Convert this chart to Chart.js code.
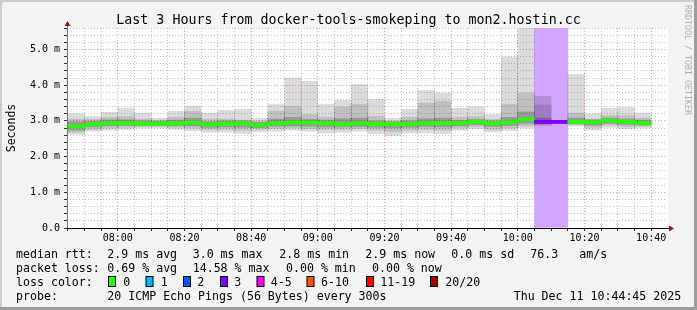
<!DOCTYPE html>
<html>
<head>
<meta charset="utf-8">
<title>SmokePing - mon2.hostin.cc</title>
<script src="https://cdn.jsdelivr.net/npm/chart.js@4.4.1/dist/chart.umd.min.js"></script>
<style>
  body { margin: 0; background: #fff; }
  canvas { display: block; }
</style>
</head>
<body>
<canvas id="myChart" width="697" height="310"></canvas>
<script>
// 5 minute slots (start time), values in ms
const slotStart = ['07:45','07:50','07:55','08:00','08:05','08:10','08:15','08:20','08:25','08:30','08:35','08:40',
                   '08:45','08:50','08:55','09:00','09:05','09:10','09:15','09:20','09:25','09:30','09:35','09:40',
                   '09:45','09:50','09:55','10:00','10:05','10:10','10:15','10:20','10:25','10:30','10:35'];
const rttMax  = [3.20,3.13,3.24,3.36,3.22,3.08,3.27,3.41,3.21,3.29,3.33,3.07,3.46,4.20,4.11,3.46,3.58,4.02,3.60,3.08,3.32,3.85,3.78,3.35,
                 3.39,3.18,4.79,5.90,3.69,null,4.30,3.20,3.35,3.38,3.22];
const rttHigh = [3.05,3.05,3.10,3.12,3.05,3.02,3.10,3.27,3.05,3.05,3.02,3.00,3.27,3.41,3.18,3.10,3.39,3.46,3.13,3.00,3.10,3.50,3.55,3.10,
                 3.12,3.05,3.46,3.78,3.45,null,3.22,3.05,3.15,3.15,3.08];
const rttUpper = [2.98,2.99,3.03,3.03,3.00,2.99,3.02,3.08,2.98,3.00,3.00,2.96,3.05,3.10,3.04,3.02,3.06,3.08,3.00,2.98,3.00,3.06,3.08,3.01,
                  3.04,3.00,3.10,3.25,3.08,null,3.08,3.03,3.08,3.05,3.02];
const rttMedian = [2.84,2.90,2.94,2.94,2.92,2.92,2.93,2.95,2.90,2.92,2.93,2.88,2.93,2.95,2.95,2.93,2.91,2.93,2.91,2.91,2.91,2.94,2.94,2.94,
                   2.97,2.93,2.96,3.04,2.97,2.97,2.97,2.96,3.01,2.97,2.94];
const rttLower = [2.74,2.83,2.86,2.87,2.87,2.87,2.86,2.86,2.82,2.83,2.82,2.81,2.85,2.86,2.85,2.83,2.83,2.84,2.82,2.80,2.82,2.84,2.83,2.86,
                  2.89,2.84,2.87,2.93,2.93,null,2.92,2.88,2.93,2.90,2.88];
const rttLow  = [2.68,2.76,2.80,2.82,2.84,2.84,2.82,2.80,2.76,2.76,2.74,2.76,2.78,2.80,2.78,2.76,2.76,2.78,2.74,2.70,2.74,2.76,2.74,2.80,
                 2.84,2.76,2.80,2.86,2.90,null,2.89,2.82,2.88,2.84,2.85];
const rttMin  = [2.62,2.71,2.74,2.76,2.80,2.80,2.76,2.73,2.68,2.68,2.65,2.69,2.71,2.74,2.71,2.66,2.68,2.71,2.64,2.59,2.66,2.66,2.64,2.74,
                 2.78,2.69,2.73,2.80,2.87,null,2.85,2.74,2.82,2.78,2.80];
const lostPings = [0,0,0,0,0,0,0,0,0,0,0,0,0,0,0,0,0,0,0,0,0,0,0,0,0,0,0,0,3,3,0,0,0,0,0];

const lossLabels = ['0','1','2','3','4-5','6-10','11-19','20/20'];
const lossColors = ['#26ff00','#00b8ff','#0059ff','#7e00ff','#ff00ff','#ff5500','#ff0000','#a10000'];
const lossShade  = '#d2a6ff';

const rttStats  = ['2.9 ms avg','3.0 ms max','2.8 ms min','2.9 ms now','0.0 ms sd','76.3','am/s'];
const lossStats = ['0.69 % avg','14.58 % max','0.00 % min','0.00 % now'];
const probeText = '20 ICMP Echo Pings (56 Bytes) every 300s';
const stampText = 'Thu Dec 11 10:44:45 2025';
const titleText = 'Last 3 Hours from docker-tools-smokeping to mon2.hostin.cc';

const MONO = '"DejaVu Sans Mono", "Liberation Mono", monospace';

const toMin = t => { const [h, m] = t.split(':').map(Number); return h * 60 + m; };
const viewEnd = toMin('10:44') + 0.75;   // 10:44:45
const viewStart = viewEnd - 180;
const slotMid = i => toMin(slotStart[i]) + 2.5;

const lossIndex = n => n <= 3 ? n : n <= 5 ? 4 : n <= 10 ? 5 : n < 20 ? 6 : 7;

const band = (lo, hi) => slotStart
    .map((t, i) => ({ x: slotMid(i), y: [lo[i], hi[i]] }))
    .filter(p => p.y[0] != null && p.y[1] != null);

const barDefaults = { grouped: false, barPercentage: 1, categoryPercentage: 1, borderWidth: 0 };

const datasets = [
    Object.assign({
        label: 'loss',
        data: slotStart.map((t, i) => ({ x: slotMid(i), y: [0, 5.6] })).filter((p, i) => lostPings[i] > 0),
        backgroundColor: lossShade, order: 5
    }, barDefaults),
    Object.assign({ label: 'smoke1', data: band(rttMin, rttMax), backgroundColor: 'rgba(0,0,0,0.14)', order: 4 }, barDefaults),
    Object.assign({ label: 'smoke2', data: band(rttLow, rttHigh), backgroundColor: 'rgba(0,0,0,0.12)', order: 3 }, barDefaults),
    Object.assign({ label: 'smoke3', data: band(rttLower, rttUpper), backgroundColor: 'rgba(0,0,0,0.20)', order: 2 }, barDefaults),
    Object.assign({
        label: 'median',
        data: rttMedian.map((m, i) => ({ x: slotMid(i), y: [m - 0.045, m + 0.045] })),
        backgroundColor: lostPings.map(n => lossColors[lossIndex(n)]),
        order: 1
    }, barDefaults)
];

const pad2 = n => String(n).padStart(2, '0');

const frame = {
    id: 'frame',
    beforeDraw(chart) {
        const { ctx, chartArea: a, width: w, height: h } = chart;
        ctx.save();
        ctx.fillStyle = '#f3f3f3';
        ctx.fillRect(0, 0, w, h);
        ctx.fillStyle = '#cdcdcd';
        ctx.fillRect(0, 0, w, 2);
        ctx.fillRect(0, 0, 2, h);
        ctx.fillStyle = '#9d9d9d';
        ctx.fillRect(0, h - 3, w, 3);
        ctx.fillRect(w - 3, 0, 3, h);
        ctx.fillStyle = '#ffffff';
        ctx.fillRect(a.left, a.top, a.right - a.left + 1, a.bottom - a.top);
        ctx.restore();
    },
    afterDatasetsDraw(chart) {
        const { ctx, chartArea: a } = chart;
        ctx.save();
        // y axis
        ctx.strokeStyle = '#707070';
        ctx.lineWidth = 1;
        ctx.beginPath();
        ctx.moveTo(a.left + 0.5, a.bottom);
        ctx.lineTo(a.left + 0.5, a.top - 3);
        ctx.stroke();
        // x axis
        ctx.strokeStyle = '#000';
        ctx.beginPath();
        ctx.moveTo(a.left, a.bottom + 0.5);
        ctx.lineTo(a.right + 4, a.bottom + 0.5);
        ctx.stroke();
        // arrows
        ctx.fillStyle = '#a01010';
        ctx.beginPath();
        ctx.moveTo(a.left - 2.5, a.top - 2);
        ctx.lineTo(a.left + 3.5, a.top - 2);
        ctx.lineTo(a.left + 0.5, a.top - 7);
        ctx.closePath();
        ctx.fill();
        ctx.beginPath();
        ctx.moveTo(a.right + 2, a.bottom - 2.5);
        ctx.lineTo(a.right + 2, a.bottom + 3.5);
        ctx.lineTo(a.right + 7, a.bottom + 0.5);
        ctx.closePath();
        ctx.fill();
        ctx.restore();
    },
    afterDraw(chart) {
        const { ctx } = chart;
        ctx.save();
        ctx.fillStyle = '#000';
        ctx.textBaseline = 'alphabetic';

        ctx.font = '13.3px ' + MONO;
        ctx.textAlign = 'center';
        ctx.fillText(titleText, chart.width / 2, 24);

        // axis title
        ctx.font = '11.5px ' + MONO;
        ctx.save();
        ctx.translate(15, 128);
        ctx.rotate(-Math.PI / 2);
        ctx.fillText('Seconds', 0, 0);
        ctx.restore();

        // watermark
        ctx.save();
        ctx.font = '8.3px ' + MONO;
        ctx.fillStyle = '#b0b0b0';
        ctx.textAlign = 'left';
        ctx.translate(685, 5);
        ctx.rotate(Math.PI / 2);
        ctx.fillText('RRDTOOL / TOBI OETIKER', 0, 0);
        ctx.restore();

        // legend
        ctx.font = '11.6px ' + MONO;
        ctx.textAlign = 'left';
        const put = (x, y, s) => ctx.fillText(s, x, y);

        put(16, 258, 'median rtt:');
        [107.3, 192.7, 279.3, 365.3, 451.3, 530.3, 579.3].forEach((x, i) => put(x, 258, rttStats[i]));

        put(16, 272, 'packet loss:');
        [107.3, 192.7, 286, 372].forEach((x, i) => put(x, 272, lossStats[i]));

        put(16, 286, 'loss color:');
        const boxX = [108.5, 146, 183.5, 220.5, 257, 307, 366.5, 430.5];
        const textX = [123.3, 160.7, 197.3, 234.3, 270.7, 321, 380.3, 445.3];
        lossLabels.forEach((lab, i) => {
            ctx.fillStyle = lossColors[i];
            ctx.fillRect(boxX[i], 276.5, 7, 10);
            ctx.strokeStyle = '#000';
            ctx.lineWidth = 1;
            ctx.strokeRect(boxX[i], 276.5, 7, 10);
            ctx.fillStyle = '#000';
            put(textX[i], 286, lab);
        });

        put(16, 300, 'probe:');
        put(107.3, 300, probeText);
        put(513.7, 300, stampText);
        ctx.restore();
    }
};

const majorGrid = 'rgba(240,120,120,0.75)';
const minorGrid = 'rgba(190,190,190,0.9)';

const myChart = new Chart(document.getElementById('myChart').getContext('2d'), {
    type: 'bar',
    data: { datasets: datasets },
    options: {
        responsive: false,
        animation: false,
        layout: { padding: { left: 0, top: 28, right: 30, bottom: 0 } },
        plugins: { legend: { display: false }, tooltip: { enabled: false }, title: { display: false } },
        scales: {
            x: {
                type: 'linear',
                min: viewStart,
                max: viewEnd,
                offset: false,
                afterFit: s => { s.height = 82; },
                afterBuildTicks: s => {
                    const ticks = [];
                    for (let v = Math.ceil(viewStart / 5) * 5; v < viewEnd; v += 5) ticks.push({ value: v });
                    s.ticks = ticks;
                },
                ticks: {
                    autoSkip: false,
                    maxRotation: 0,
                    padding: 1,
                    color: '#000',
                    font: { family: MONO, size: 10 },
                    callback: v => v % 20 === 0 ? pad2(Math.floor(v / 60)) + ':' + pad2(v % 60) : ''
                },
                grid: {
                    offset: false,
                    color: c => c.tick && c.tick.value % 20 === 0 ? majorGrid : minorGrid,
                    tickColor: '#333',
                    tickLength: 3,
                    tickBorderDash: []
                },
                border: { display: false, dash: [1, 2] }
            },
            y: {
                min: 0,
                max: 5.6,
                afterFit: s => { s.width = 67; },
                ticks: {
                    stepSize: 0.2,
                    autoSkip: false,
                    padding: 4,
                    color: '#000',
                    font: { family: MONO, size: 10 },
                    callback: v => {
                        if (Math.abs(v - Math.round(v)) > 1e-6) return '';
                        return v === 0 ? '0.0' : v.toFixed(1) + ' m';
                    }
                },
                grid: {
                    color: c => c.tick && c.tick.value > 0 && Math.abs(c.tick.value - Math.round(c.tick.value)) < 1e-6 ? majorGrid : minorGrid,
                    tickColor: '#333',
                    tickLength: 3,
                    tickBorderDash: []
                },
                border: { display: false, dash: [1, 2] }
            }
        }
    },
    plugins: [frame]
});
</script>
</body>
</html>
